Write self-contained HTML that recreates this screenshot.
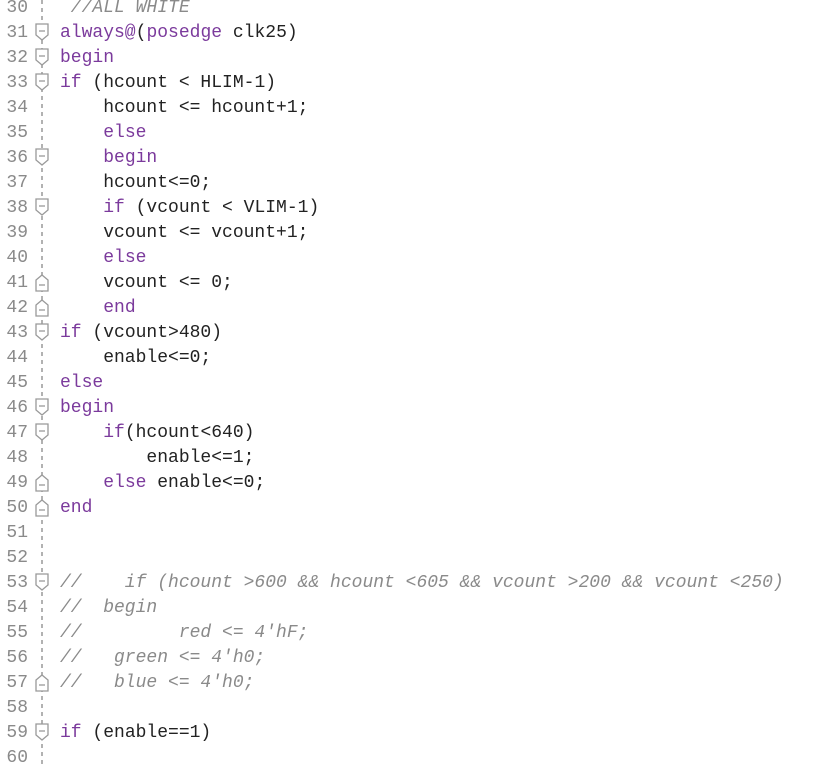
<!DOCTYPE html>
<html><head><meta charset="utf-8"><style>
body{margin:0;width:814px;height:768px;background:#fff;overflow:hidden;position:relative;font-family:"Liberation Mono","Courier New",monospace;font-size:18px;}
.l{position:absolute;left:60px;height:25px;line-height:25px;white-space:pre;color:#222;}
.n{position:absolute;left:0;width:28px;text-align:right;height:25px;line-height:25px;color:#8a8a8a;}
.k{color:#7b3a9c}
.c{color:#8a8a8a;font-style:italic}
</style></head><body>
<svg width="814" height="768" style="position:absolute;left:0;top:0">
<line x1="42" y1="0" x2="42" y2="768" stroke="#999" stroke-width="1.5" stroke-dasharray="4,4"/>
<g id="icons" fill="#fff" stroke="#999" stroke-width="1.3"></g>
</svg>
<div id="c"></div>
<script>
var lines=[
[30,'<span class="c"> //ALL WHITE</span>'],
[31,'<span class="k">always@</span>(<span class="k">posedge</span> clk25)'],
[32,'<span class="k">begin</span>'],
[33,'<span class="k">if</span> (hcount &lt; HLIM-1)'],
[34,'    hcount &lt;= hcount+1;'],
[35,'    <span class="k">else</span>'],
[36,'    <span class="k">begin</span>'],
[37,'    hcount&lt;=0;'],
[38,'    <span class="k">if</span> (vcount &lt; VLIM-1)'],
[39,'    vcount &lt;= vcount+1;'],
[40,'    <span class="k">else</span>'],
[41,'    vcount &lt;= 0;'],
[42,'    <span class="k">end</span>'],
[43,'<span class="k">if</span> (vcount&gt;480)'],
[44,'    enable&lt;=0;'],
[45,'<span class="k">else</span>'],
[46,'<span class="k">begin</span>'],
[47,'    <span class="k">if</span>(hcount&lt;640)'],
[48,'        enable&lt;=1;'],
[49,'    <span class="k">else</span> enable&lt;=0;'],
[50,'<span class="k">end</span>'],
[51,''],[52,''],
[53,'<span class="c">//    if (hcount &gt;600 &amp;&amp; hcount &lt;605 &amp;&amp; vcount &gt;200 &amp;&amp; vcount &lt;250)</span>'],
[54,'<span class="c">//  begin</span>'],
[55,'<span class="c">//         red &lt;= 4\'hF;</span>'],
[56,'<span class="c">//   green &lt;= 4\'h0;</span>'],
[57,'<span class="c">//   blue &lt;= 4\'h0;</span>'],
[58,''],
[59,'<span class="k">if</span> (enable==1)'],
[60,'']];
var h='';
lines.forEach(function(a){var t=-4+(a[0]-30)*25;
h+='<div class="n" style="top:'+t+'px">'+a[0]+'</div><div class="l" style="top:'+t+'px">'+a[1]+'</div>';});
document.getElementById('c').innerHTML=h;
var down=[31,32,33,36,38,43,46,47,53,59],up=[41,42,49,50,57],g='';
down.forEach(function(n){var y=8+(n-30)*25;
g+='<path d="M36 '+(y-9)+' h12 v11 l-6 5 l-6 -5 z"/><line x1="39" y1="'+(y-2)+'" x2="45" y2="'+(y-2)+'"/>';});
up.forEach(function(n){var y=8+(n-30)*25;
g+='<path d="M36 '+(y+8)+' h12 v-11 l-6 -5 l-6 5 z"/><line x1="39" y1="'+(y+2)+'" x2="45" y2="'+(y+2)+'"/>';});
document.getElementById('icons').innerHTML=g;
</script>
</body></html>
